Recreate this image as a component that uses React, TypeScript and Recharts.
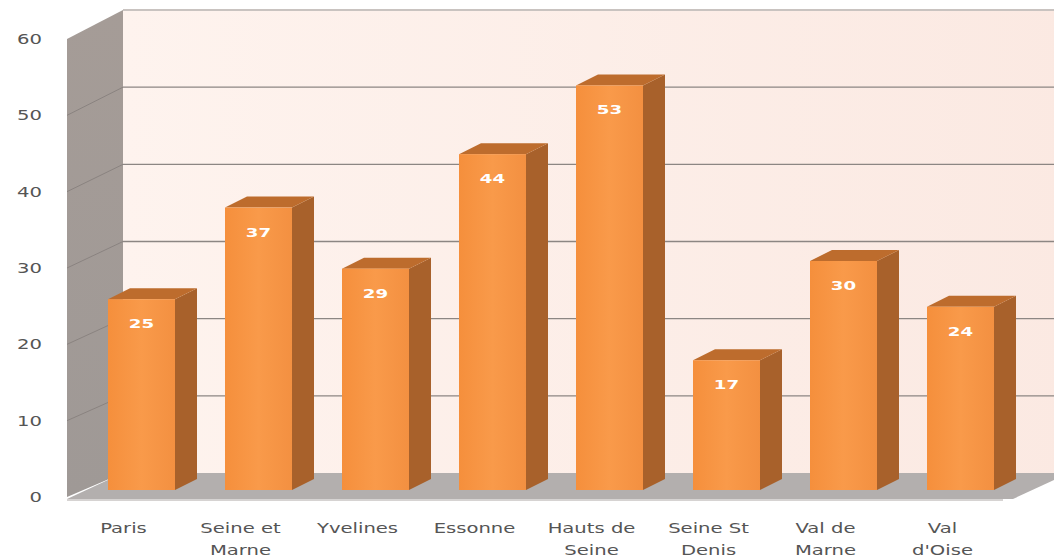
import React from "react";
import { BarChart, Bar, XAxis, YAxis, LabelList } from "recharts";

const departments = [
  "Paris",
  "Seine et\nMarne",
  "Yvelines",
  "Essonne",
  "Hauts de\nSeine",
  "Seine St\nDenis",
  "Val de\nMarne",
  "Val\nd'Oise",
];
const counts = [25, 37, 29, 44, 53, 17, 30, 24];
const yTicks = [0, 10, 20, 30, 40, 50, 60];

const chartData = departments.map((name, i) => ({ name, value: counts[i] }));

const W = 1054;
const H = 560;
// plot area of the plane the bars stand in
const PLOT = { left: 83, right: 1019, top: 32, bottom: 490 };
const Y_MAX = 60;
// the axis plane sits in front of the bars, the back wall behind them
const FRONT = { dx: -16, dy: 7 };
const BACK = { dx: 40, top: 10, bottom: 473 };
const BAR_DEPTH = { dx: 22, dy: -11 };
const TEXT_STRETCH = 1.4;

const yAt = (v: number) =>
  PLOT.bottom - (v / Y_MAX) * (PLOT.bottom - PLOT.top);

function Walls() {
  const fx = PLOT.left + FRONT.dx;
  const bx = PLOT.left + BACK.dx;
  const bRight = PLOT.right + BACK.dx + 10;
  const fRight = PLOT.right + FRONT.dx;
  const fy = (v: number) => yAt(v) + FRONT.dy;
  const by = (v: number) => BACK.bottom - (v / Y_MAX) * (BACK.bottom - BACK.top);
  const inner = yTicks.filter((t) => t > 0 && t < Y_MAX);
  return (
    <svg width={W} height={H} style={{ position: "absolute", left: 0, top: 0 }}>
      <defs>
        <linearGradient id="backWall" x1="0" y1="0" x2="1" y2="0">
          <stop offset="0%" stopColor="#fef3ee" />
          <stop offset="100%" stopColor="#fbe9e2" />
        </linearGradient>
        <linearGradient id="sideWall" x1="0" y1="0" x2="0" y2="1">
          <stop offset="0%" stopColor="#a59c97" />
          <stop offset="100%" stopColor="#9f9996" />
        </linearGradient>
      </defs>
      {/* back wall */}
      <rect x={bx} y={by(Y_MAX)} width={bRight - bx} height={by(0) - by(Y_MAX)} fill="url(#backWall)" />
      <line x1={bx} x2={bRight} y1={by(Y_MAX)} y2={by(Y_MAX)} stroke="#c9c3c0" strokeWidth={2} />
      {inner.map((t) => (
        <line key={t} x1={bx} x2={bRight} y1={by(t)} y2={by(t)} stroke="#8c8683" strokeWidth={1.3} />
      ))}
      {/* left wall */}
      <polygon
        points={`${fx},${fy(Y_MAX)} ${bx},${by(Y_MAX)} ${bx},${by(0)} ${fx},${fy(0)}`}
        fill="url(#sideWall)"
      />
      {inner.map((t) => (
        <line key={t} x1={fx} x2={bx} y1={fy(t)} y2={by(t)} stroke="#8a8380" strokeWidth={1} />
      ))}
      {/* floor */}
      <polygon
        points={`${fx},${fy(0) + 2} ${bx},${by(0)} ${bRight},${by(0)} ${bRight - (BACK.dx - FRONT.dx)},${fy(0) + 2} ${fRight},${fy(0) + 2}`}
        fill="#b3afae"
      />
      <line x1={fx} x2={fRight} y1={fy(0) + 3} y2={fy(0) + 3} stroke="#d6d3d2" strokeWidth={2} />
    </svg>
  );
}

const Bar3D = (props: any) => {
  const { x, y, width, height } = props;
  if (!height || height <= 0) return null;
  const { dx, dy } = BAR_DEPTH;
  const top = `${x},${y} ${x + dx},${y + dy} ${x + width + dx},${y + dy} ${x + width},${y}`;
  const side = `${x + width},${y} ${x + width + dx},${y + dy} ${x + width + dx},${y + height + dy} ${x + width},${y + height}`;
  return (
    <g>
      <polygon points={side} fill="#a8612b" />
      <polygon points={top} fill="#bd6c2d" />
      <rect x={x} y={y} width={width} height={height} fill="url(#barFront)" />
    </g>
  );
};

const ValueLabel = (props: any) => {
  const { x, y, width, value } = props;
  return (
    <g transform={`translate(${x + width / 2},${y + 29}) scale(${TEXT_STRETCH},1)`}>
      <text
        x={0}
        y={0}
        textAnchor="middle"
        fill="#ffffff"
        fontFamily="DejaVu Sans"
        fontWeight="bold"
        fontSize={13}
      >
        {value}
      </text>
    </g>
  );
};

const CategoryTick = (props: any) => {
  const { x, payload } = props;
  const lines = String(payload.value).split("\n");
  return (
    <g>
      {lines.map((line, i) => (
        <g key={i} transform={`translate(${x + FRONT.dx - 2},${533 + i * 22}) scale(${TEXT_STRETCH},1)`}>
          <text x={0} y={0} textAnchor="middle" fill="#555555" fontFamily="DejaVu Sans" fontSize={14}>
            {line}
          </text>
        </g>
      ))}
    </g>
  );
};

const ValueTick = (props: any) => {
  const { y, payload } = props;
  return (
    <g transform={`translate(42,${y + FRONT.dy + 5}) scale(${TEXT_STRETCH},1)`}>
      <text x={0} y={0} textAnchor="end" fill="#555555" fontFamily="DejaVu Sans" fontSize={14}>
        {payload.value}
      </text>
    </g>
  );
};

export default function App() {
  return (
    <div style={{ position: "relative", width: W, height: H, background: "#ffffff" }}>
      <style>{"body{margin:0}"}</style>
      <Walls />
      <div style={{ position: "absolute", left: 0, top: 0 }}>
        <BarChart
          width={W}
          height={H}
          data={chartData}
          margin={{ top: PLOT.top, right: W - PLOT.right, left: PLOT.left - 60, bottom: 10 }}
          barSize={67}
        >
          <defs>
            <linearGradient id="barFront" x1="0" y1="0" x2="1" y2="0">
              <stop offset="0%" stopColor="#f58f3c" />
              <stop offset="50%" stopColor="#f99a4a" />
              <stop offset="100%" stopColor="#f39041" />
            </linearGradient>
          </defs>
          <XAxis
            dataKey="name"
            axisLine={false}
            tickLine={false}
            interval={0}
            height={H - PLOT.bottom - 10}
            tick={<CategoryTick />}
          />
          <YAxis
            domain={[0, Y_MAX]}
            ticks={yTicks}
            axisLine={false}
            tickLine={false}
            width={60}
            tick={<ValueTick />}
          />
          <Bar dataKey="value" shape={<Bar3D />} isAnimationActive={false}>
            <LabelList dataKey="value" content={<ValueLabel />} />
          </Bar>
        </BarChart>
      </div>
    </div>
  );
}
